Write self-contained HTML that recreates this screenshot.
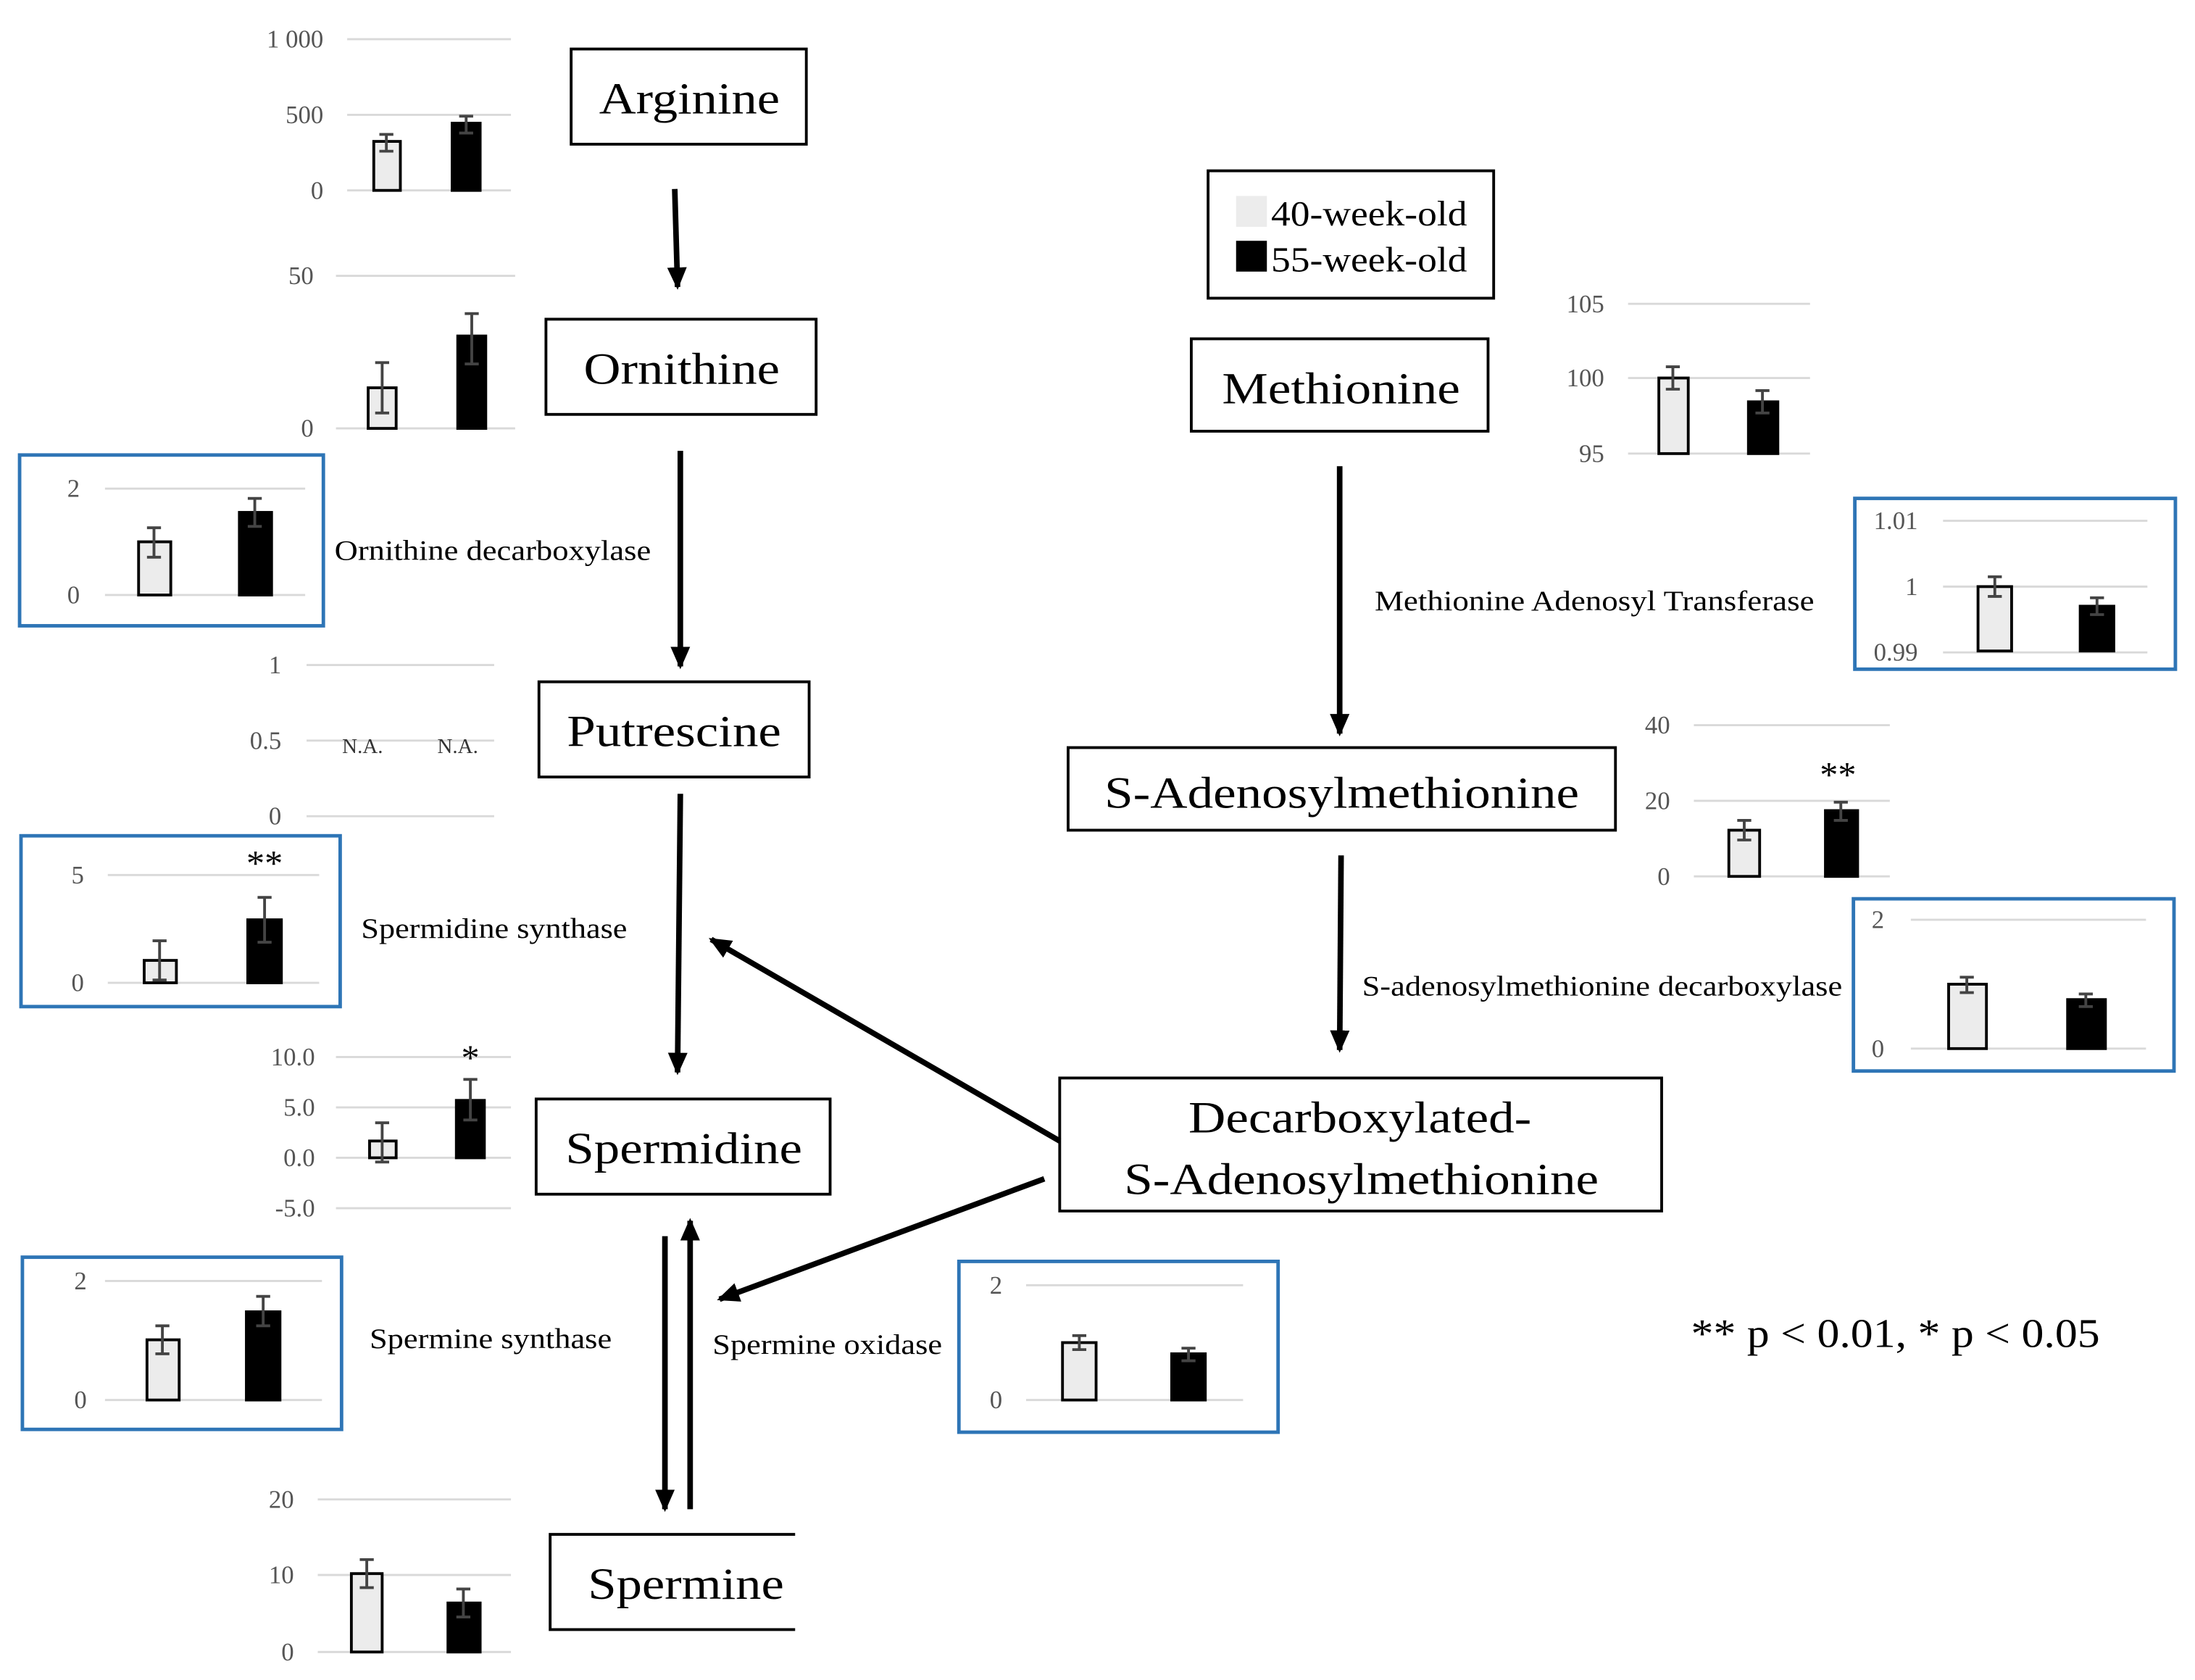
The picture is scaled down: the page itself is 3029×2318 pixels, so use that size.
<!DOCTYPE html>
<html><head><meta charset="utf-8"><style>html,body{margin:0;padding:0;background:#fff}svg{display:block}</style></head><body>
<svg xmlns="http://www.w3.org/2000/svg" width="3029" height="2318" viewBox="0 0 1568 1200" preserveAspectRatio="none">
<defs>
<marker id="a2" markerWidth="16" markerHeight="16" refX="14" refY="8" orient="auto" markerUnits="userSpaceOnUse" viewBox="0 0 16 16"><path d="M0,1 L16,8 L0,15 z" fill="#000"/></marker></defs>
<g font-family="Liberation Serif, serif">
<g fill="#fff" stroke="#000" stroke-width="2">
<rect x="408" y="35" width="168" height="68"/>
<rect x="390" y="228" width="193" height="68"/>
<rect x="385" y="487" width="193" height="68"/>
<rect x="383" y="785" width="210" height="68"/>
<rect x="851" y="242" width="212" height="66"/>
<rect x="763" y="534" width="391" height="59"/>
<rect x="757" y="770" width="430" height="95"/>
<rect x="863" y="122" width="204" height="91"/>
<path d="M568,1096 L393,1096 L393,1164 L568,1164" fill="none"/>
</g>
<g font-size="32" fill="#000" lengthAdjust="spacingAndGlyphs">
<text x="428" y="81" textLength="129" lengthAdjust="spacingAndGlyphs">Arginine</text>
<text x="417" y="274" textLength="140" lengthAdjust="spacingAndGlyphs">Ornithine</text>
<text x="405" y="533" textLength="153" lengthAdjust="spacingAndGlyphs">Putrescine</text>
<text x="404" y="831" textLength="169" lengthAdjust="spacingAndGlyphs">Spermidine</text>
<text x="420" y="1142" textLength="140" lengthAdjust="spacingAndGlyphs">Spermine</text>
<text x="873" y="288" textLength="170" lengthAdjust="spacingAndGlyphs">Methionine</text>
<text x="789" y="577" textLength="339" lengthAdjust="spacingAndGlyphs">S-Adenosylmethionine</text>
<text x="849" y="809" textLength="245" lengthAdjust="spacingAndGlyphs">Decarboxylated-</text>
<text x="803" y="853" textLength="339" lengthAdjust="spacingAndGlyphs">S-Adenosylmethionine</text>
</g>
<rect x="883" y="140" width="22" height="22" fill="#ececec"/>
<rect x="883" y="172" width="22" height="22" fill="#000"/>
<text x="908" y="161" font-size="25" textLength="140" lengthAdjust="spacingAndGlyphs">40-week-old</text>
<text x="908" y="194" font-size="25" textLength="140" lengthAdjust="spacingAndGlyphs">55-week-old</text>
<g stroke="#000" stroke-width="4" fill="none">
<line x1="482" y1="135" x2="484" y2="205" marker-end="url(#a2)"/>
<line x1="486" y1="322" x2="486" y2="476" marker-end="url(#a2)"/>
<line x1="486" y1="567" x2="484" y2="766" marker-end="url(#a2)"/>
<line x1="957" y1="333" x2="957" y2="524" marker-end="url(#a2)"/>
<line x1="958" y1="611" x2="957" y2="750" marker-end="url(#a2)"/>
<line x1="757" y1="815" x2="508" y2="671" marker-end="url(#a2)"/>
<line x1="746" y1="842" x2="514" y2="928" marker-end="url(#a2)"/>
<line x1="475" y1="883" x2="475" y2="1078" marker-end="url(#a2)"/>
<line x1="493" y1="1078" x2="493" y2="872" marker-end="url(#a2)"/>
</g>
<g font-size="20" fill="#000">
<text x="239" y="400" textLength="226" lengthAdjust="spacingAndGlyphs">Ornithine decarboxylase</text>
<text x="258" y="670" textLength="190" lengthAdjust="spacingAndGlyphs">Spermidine synthase</text>
<text x="264" y="963" textLength="173" lengthAdjust="spacingAndGlyphs">Spermine synthase</text>
<text x="509" y="967" textLength="164" lengthAdjust="spacingAndGlyphs">Spermine oxidase</text>
<text x="982" y="436" textLength="314" lengthAdjust="spacingAndGlyphs">Methionine Adenosyl Transferase</text>
<text x="973" y="711" textLength="343" lengthAdjust="spacingAndGlyphs">S-adenosylmethionine decarboxylase</text>
<text x="1208" y="962" font-size="29" textLength="292" lengthAdjust="spacingAndGlyphs">** p &lt; 0.01, * p &lt; 0.05</text>
</g>
<g fill="none" stroke="#2e75b6" stroke-width="2.5">
<rect x="14" y="325" width="217" height="122"/>
<rect x="15" y="597" width="228" height="122"/>
<rect x="16" y="898" width="228" height="123"/>
<rect x="685" y="901" width="228" height="122"/>
<rect x="1325" y="356" width="229" height="122"/>
<rect x="1324" y="642" width="229" height="123"/>
</g>
<g stroke="#d9d9d9" stroke-width="1.5">
<line x1="248" y1="28" x2="365" y2="28"/><line x1="248" y1="82" x2="365" y2="82"/><line x1="248" y1="136" x2="365" y2="136"/>
<line x1="240" y1="197" x2="368" y2="197"/><line x1="240" y1="306" x2="368" y2="306"/>
<line x1="75" y1="349" x2="218" y2="349"/><line x1="75" y1="425" x2="218" y2="425"/>
<line x1="219" y1="475" x2="353" y2="475"/><line x1="219" y1="529" x2="353" y2="529"/><line x1="219" y1="583" x2="353" y2="583"/>
<line x1="77" y1="625" x2="228" y2="625"/><line x1="77" y1="702" x2="228" y2="702"/>
<line x1="240" y1="755" x2="365" y2="755"/><line x1="240" y1="791" x2="365" y2="791"/><line x1="240" y1="827" x2="365" y2="827"/><line x1="240" y1="863" x2="365" y2="863"/>
<line x1="75" y1="915" x2="230" y2="915"/><line x1="75" y1="1000" x2="230" y2="1000"/>
<line x1="227" y1="1071" x2="365" y2="1071"/><line x1="227" y1="1125" x2="365" y2="1125"/><line x1="227" y1="1180" x2="365" y2="1180"/>
<line x1="733" y1="918" x2="888" y2="918"/><line x1="733" y1="1000" x2="888" y2="1000"/>
<line x1="1163" y1="217" x2="1293" y2="217"/><line x1="1163" y1="270" x2="1293" y2="270"/><line x1="1163" y1="324" x2="1293" y2="324"/>
<line x1="1388" y1="372" x2="1534" y2="372"/><line x1="1388" y1="419" x2="1534" y2="419"/><line x1="1388" y1="466" x2="1534" y2="466"/>
<line x1="1210" y1="518" x2="1350" y2="518"/><line x1="1210" y1="572" x2="1350" y2="572"/><line x1="1210" y1="626" x2="1350" y2="626"/>
<line x1="1365" y1="657" x2="1533" y2="657"/><line x1="1365" y1="749" x2="1533" y2="749"/>
</g>
<g font-size="18" fill="#555" text-anchor="end">
<text x="231" y="34">1 000</text><text x="231" y="88">500</text><text x="231" y="142">0</text>
<text x="224" y="203">50</text><text x="224" y="312">0</text>
<text x="57" y="355">2</text><text x="57" y="431">0</text>
<text x="201" y="481">1</text><text x="201" y="535">0.5</text><text x="201" y="589">0</text>
<text x="60" y="631">5</text><text x="60" y="708">0</text>
<text x="225" y="761">10.0</text><text x="225" y="797">5.0</text><text x="225" y="833">0.0</text><text x="225" y="869">-5.0</text>
<text x="62" y="921">2</text><text x="62" y="1006">0</text>
<text x="210" y="1077">20</text><text x="210" y="1131">10</text><text x="210" y="1186">0</text>
<text x="716" y="924">2</text><text x="716" y="1006">0</text>
<text x="1146" y="223">105</text><text x="1146" y="276">100</text><text x="1146" y="330">95</text>
<text x="1370" y="378">1.01</text><text x="1370" y="425">1</text><text x="1370" y="472">0.99</text>
<text x="1193" y="524">40</text><text x="1193" y="578">20</text><text x="1193" y="632">0</text>
<text x="1346" y="663">2</text><text x="1346" y="755">0</text>
</g>
<g font-size="15" fill="#333" text-anchor="middle"><text x="259" y="538">N.A.</text><text x="327" y="538">N.A.</text></g>
<g font-size="26" fill="#000" text-anchor="middle"><text x="189" y="625">**</text><text x="336" y="764">*</text><text x="1313" y="562">**</text></g>
<g stroke="#000" stroke-width="2">
<rect x="267" y="101" width="19" height="35" fill="#ececec"/><rect x="323" y="88" width="20" height="48" fill="#000"/>
<rect x="263" y="277" width="20" height="29" fill="#ececec"/><rect x="327" y="240" width="20" height="66" fill="#000"/>
<rect x="99" y="387" width="23" height="38" fill="#ececec"/><rect x="171" y="366" width="23" height="59" fill="#000"/>
<rect x="103" y="686" width="23" height="16" fill="#ececec"/><rect x="177" y="657" width="24" height="45" fill="#000"/>
<rect x="264" y="815" width="19" height="12" fill="#ececec"/><rect x="326" y="786" width="20" height="41" fill="#000"/>
<rect x="105" y="957" width="23" height="43" fill="#ececec"/><rect x="176" y="937" width="24" height="63" fill="#000"/>
<rect x="251" y="1124" width="22" height="56" fill="#ececec"/><rect x="320" y="1145" width="23" height="35" fill="#000"/>
<rect x="759" y="959" width="24" height="41" fill="#ececec"/><rect x="837" y="967" width="24" height="33" fill="#000"/>
<rect x="1185" y="270" width="21" height="54" fill="#ececec"/><rect x="1249" y="287" width="21" height="37" fill="#000"/>
<rect x="1413" y="419" width="24" height="46" fill="#ececec"/><rect x="1486" y="433" width="24" height="32" fill="#000"/>
<rect x="1235" y="593" width="22" height="33" fill="#ececec"/><rect x="1304" y="579" width="23" height="47" fill="#000"/>
<rect x="1392" y="703" width="27" height="46" fill="#ececec"/><rect x="1477" y="714" width="27" height="35" fill="#000"/>
</g>
<g stroke="#444" stroke-width="2" fill="none">
<path d="M276,96V108M271,96H281M271,108H281"/><path d="M333,83V95M328,83H338M328,95H338"/>
<path d="M273,259V295M268,259H278M268,295H278"/><path d="M337,224V260M332,224H342M332,260H342"/>
<path d="M110,377V398M105,377H115M105,398H115"/><path d="M182,356V376M177,356H187M177,376H187"/>
<path d="M114,672V700M109,672H119M109,700H119"/><path d="M189,641V673M184,641H194M184,673H194"/>
<path d="M273,802V830M268,802H278M268,830H278"/><path d="M336,771V800M331,771H341M331,800H341"/>
<path d="M116,947V967M111,947H121M111,967H121"/><path d="M188,926V947M183,926H193M183,947H193"/>
<path d="M262,1114V1134M257,1114H267M257,1134H267"/><path d="M331,1135V1155M326,1135H336M326,1155H336"/>
<path d="M771,954V964M766,954H776M766,964H776"/><path d="M849,963V972M844,963H854M844,972H854"/>
<path d="M1195,262V278M1190,262H1200M1190,278H1200"/><path d="M1259,279V295M1254,279H1264M1254,295H1264"/>
<path d="M1425,412V426M1420,412H1430M1420,426H1430"/><path d="M1498,427V439M1493,427H1503M1493,439H1503"/>
<path d="M1246,586V600M1241,586H1251M1241,600H1251"/><path d="M1315,573V586M1310,573H1320M1310,586H1320"/>
<path d="M1405,698V709M1400,698H1410M1400,709H1410"/><path d="M1490,710V719M1485,710H1495M1485,719H1495"/>
</g>
</g>
</svg>
</body></html>
